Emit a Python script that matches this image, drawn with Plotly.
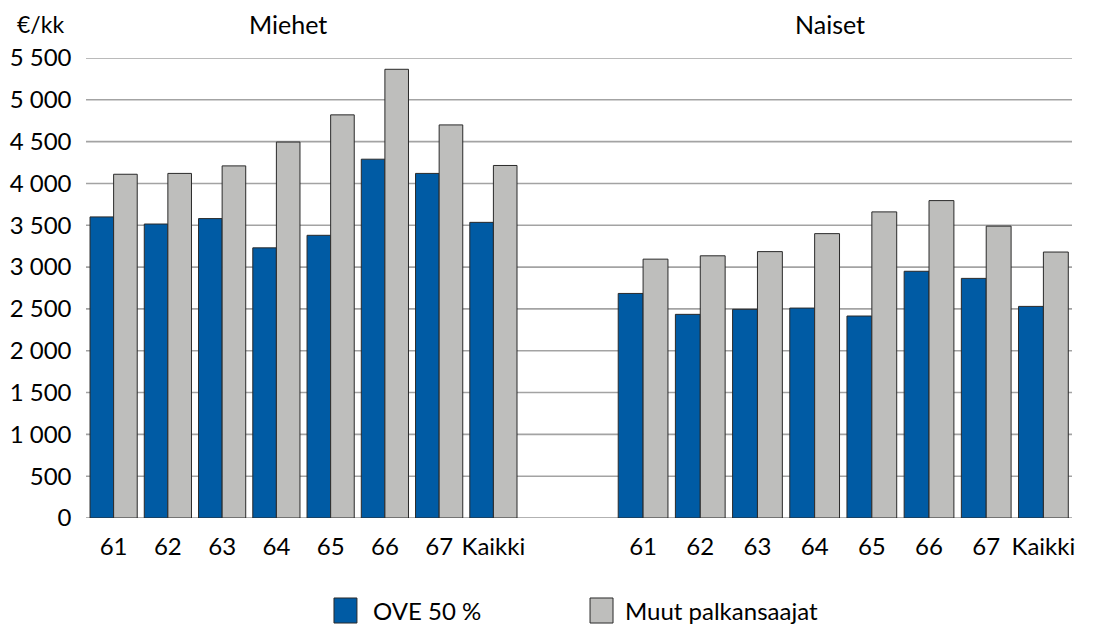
import plotly.graph_objects as go

# ---- data ----
categories = ["61", "62", "63", "64", "65", "66", "67", "Kaikki"]
men_ove = [3600, 3515, 3580, 3230, 3380, 4290, 4120, 3535]
men_muut = [4110, 4120, 4210, 4495, 4820, 5365, 4700, 4215]
women_ove = [2685, 2435, 2495, 2510, 2415, 2950, 2865, 2530]
women_muut = [3095, 3135, 3185, 3400, 3660, 3795, 3490, 3180]
series_names = ["OVE 50 %", "Muut palkansaajat"]
group_titles = ["Miehet", "Naiset"]
y_ticks = [0, 500, 1000, 1500, 2000, 2500, 3000, 3500, 4000, 4500, 5000, 5500]
y_tick_labels = ["0", "500", "1 000", "1 500", "2 000", "2 500", "3 000",
                 "3 500", "4 000", "4 500", "5 000", "5 500"]
unit_label = "€/kk"

BLUE = "#005BA4"
GRAY = "#BEBEBC"
EDGE = "#2a2a2a"
GRID = "#A3A3A3"
FONT = "Lato"
colors = [BLUE, GRAY]

fig = go.Figure()

for xa, vals in (("x", [men_ove, men_muut]), ("x2", [women_ove, women_muut])):
    for nm, col, v in zip(series_names, colors, vals):
        fig.add_trace(go.Bar(x=categories, y=v, name=nm,
                             marker=dict(color=col, line=dict(color=EDGE, width=1)),
                             xaxis=xa, yaxis="y", showlegend=False))

# gridlines spanning the whole plot width (including the gap between groups)
for v in y_ticks:
    fig.add_shape(type="line", xref="paper", yref="y", x0=0, x1=1, y0=v, y1=v,
                  line=dict(color="#999999" if v == 0 else GRID, width=1.6),
                  layer="below")

# legend: swatches + labels
legend_swatch_x = [(0.2515, 0.2748), (0.5112, 0.5345)]
legend_text_x = [0.289, 0.5446]
annotations = []
for nm, col, (sx0, sx1), tx in zip(series_names, colors, legend_swatch_x, legend_text_x):
    fig.add_shape(type="rect", xref="paper", yref="paper", x0=sx0, x1=sx1,
                  y0=-0.2283, y1=-0.1739, fillcolor=col,
                  line=dict(color=EDGE, width=1))
    annotations.append(dict(text=nm, xref="paper", yref="paper", x=tx, y=-0.2,
                            xanchor="left", yanchor="middle", showarrow=False,
                            font=dict(size=24)))

annotations += [
    dict(text=unit_label, xref="paper", yref="paper", x=-0.072, y=1.0,
         yshift=34, xanchor="left", yanchor="middle", showarrow=False,
         font=dict(size=23)),
    dict(text=group_titles[0], xref="paper", yref="paper", x=0.2049, y=1.0,
         yshift=34, xanchor="center", yanchor="middle", showarrow=False,
         font=dict(size=25)),
    dict(text=group_titles[1], xref="paper", yref="paper", x=0.7546, y=1.0,
         yshift=34, xanchor="center", yanchor="middle", showarrow=False,
         font=dict(size=25)),
]

fig.update_layout(
    width=1093, height=628,
    margin=dict(l=78, r=29, t=50, b=118, autoexpand=False),
    paper_bgcolor="white", plot_bgcolor="white",
    barmode="group", bargap=0.13, bargroupgap=0,
    showlegend=False,
    font=dict(family=FONT, size=24, color="black"),
    xaxis=dict(domain=[0.0005, 0.4407], anchor="y", showgrid=False,
               zeroline=False, showline=False, ticks="", automargin=False,
               ticklabelstandoff=12, tickfont=dict(size=24)),
    xaxis2=dict(domain=[0.536, 1.0], anchor="y", showgrid=False,
                zeroline=False, showline=False, ticks="", automargin=False,
                ticklabelstandoff=12, tickfont=dict(size=24)),
    yaxis=dict(range=[0, 5500], tickvals=y_ticks, ticktext=y_tick_labels,
               showgrid=False, zeroline=False, showline=False, ticks="",
               automargin=False, ticklabelstandoff=14, tickfont=dict(size=24)),
    annotations=annotations,
)

fig.write_html("out.html")
